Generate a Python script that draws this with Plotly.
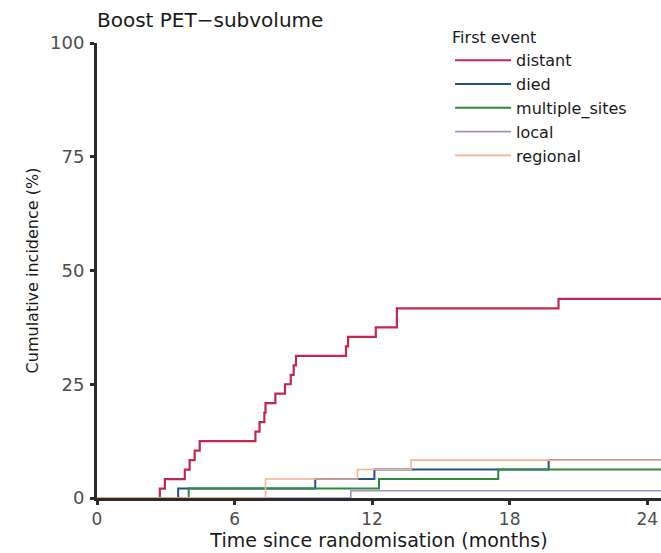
import plotly.graph_objects as go

# Cumulative incidence of first event, boost PET-subvolume arm (months, %)
follow_up_end = 24.6

distant_t = [0, 2.74, 2.96, 3.83, 4.04, 4.26, 4.48, 6.91, 7.09, 7.30, 7.35, 7.78, 8.20, 8.45, 8.58, 8.68, 10.86, 10.95, 12.16, 13.08, 20.13]
distant_y = [0, 2.08, 4.17, 6.25, 8.33, 10.42, 12.50, 14.58, 16.67, 18.75, 20.83, 22.92, 25.00, 27.08, 29.17, 31.25, 33.33, 35.42, 37.50, 41.67, 43.75]

died_t = [0, 3.54, 9.52, 12.10, 19.70]
died_y = [0, 2.08, 4.17, 6.25, 8.33]

multiple_t = [0, 4.00, 12.30, 17.50]
multiple_y = [0, 2.08, 4.17, 6.25]

local_t = [0, 11.07]
local_y = [0, 1.6]

regional_t = [0, 7.35, 11.36, 13.70]
regional_y = [0, 4.17, 6.25, 8.33]

series = [
    ("distant", distant_t, distant_y, "#C3274F", 2.2),
    ("died", died_t, died_y, "#24508C", 2.0),
    ("multiple_sites", multiple_t, multiple_y, "#2F8A3C", 2.0),
    ("local", local_t, local_y, "#A890C2", 1.6),
    ("regional", regional_t, regional_y, "#F5B291", 1.6),
]

x_ticks = [0, 6, 12, 18, 24]
y_ticks = [0, 25, 50, 75, 100]

font_family = "DejaVu Sans, Liberation Sans, sans-serif"
axis_col = "#2b2b2b"
text_col = "#1a1a1a"
tick_col = "#4d4d4d"

fig = go.Figure()
for name, t, y, col, w in series:
    fig.add_trace(go.Scatter(
        x=t + [follow_up_end], y=y + [y[-1]],
        mode="lines", line=dict(color=col, width=w, shape="hv"),
        name=name,
    ))

fig.update_layout(
    width=661, height=553,
    margin=dict(l=97, r=0, t=43, b=55),
    plot_bgcolor="white", paper_bgcolor="white",
    font=dict(family=font_family, size=16, color=text_col),
    title=dict(text="Boost PET\u2212subvolume", x=97/661, xanchor="left",
               xref="container", y=1-20/553, yref="container", yanchor="middle",
               font=dict(size=20, color=text_col)),
    legend=dict(
        title=dict(text="First event", font=dict(size=16)),
        x=0.626, xanchor="left", y=1.045, yanchor="top",
        font=dict(size=16, color=text_col),
        bgcolor="rgba(0,0,0,0)", tracegroupgap=0, itemwidth=56,
    ),
    showlegend=True,
)

fig.update_xaxes(
    range=[0, follow_up_end], tickvals=x_ticks, ticktext=[str(v) for v in x_ticks],
    showgrid=False, zeroline=False,
    showline=True, linecolor=axis_col, linewidth=3,
    ticks="outside", ticklen=4, tickwidth=2.5, tickcolor=axis_col,
    tickfont=dict(size=17, color=tick_col), ticklabelstandoff=0,
    title=dict(text="Time since randomisation (months)", font=dict(size=19), standoff=3),
)
fig.update_yaxes(
    range=[0, 100], tickvals=y_ticks, ticktext=[str(v) for v in y_ticks],
    showgrid=False, zeroline=False,
    showline=True, linecolor=axis_col, linewidth=3,
    ticks="outside", ticklen=4, tickwidth=2.5, tickcolor=axis_col,
    tickfont=dict(size=18, color=tick_col), ticklabelstandoff=2,
    title=dict(text="Cumulative incidence (%)", font=dict(size=16), standoff=8),
)

fig.write_html("out.html")
